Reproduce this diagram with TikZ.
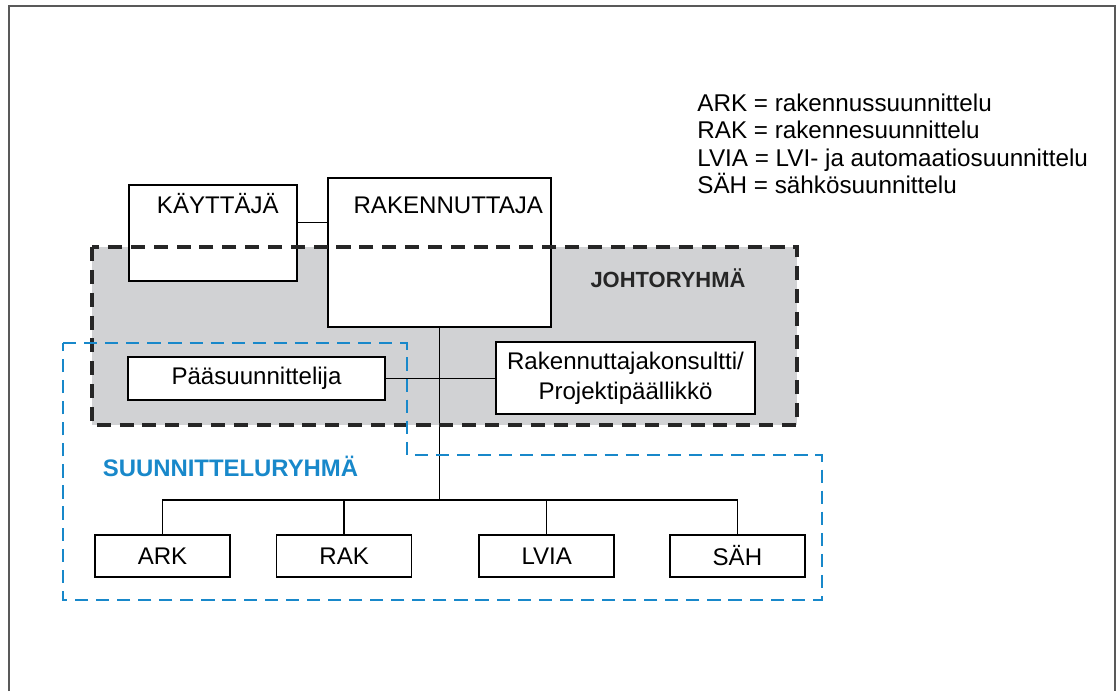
\documentclass[tikz,border=0pt]{standalone}
\usepackage{fontspec}
\setmainfont{Liberation Sans}
\usepackage{tikz}
\usetikzlibrary{positioning}
\definecolor{groupgray}{RGB}{209,210,212}
\definecolor{groupblue}{RGB}{24,136,202}
\tikzstyle{box} = [rectangle, draw, fill=white, line width=0.95pt, inner sep=0pt]
\tikzstyle{line} = [-, line width=0.75pt]
\tikzstyle{johto} = [draw=black!85, line width=2pt, dash pattern=on 8pt off 5pt]
\tikzstyle{suunn} = [draw=groupblue, line width=1.5pt, dash pattern=on 7.5pt off 4.5pt]

\begin{document}
\begin{tikzpicture}[x=0.02cm, y=-0.02cm, font=\fontsize{13.7}{17}\selectfont]
\useasboundingbox (0,0) rectangle (1117,691);
\draw [black!65, line width=0.8pt] (9,691) -- (9,6) -- (1115,6) -- (1115,691);

\fill [groupgray] (92,247) rectangle (797,425);

\node [box, anchor=north west, minimum width=3.36cm, text height=0.58cm, text depth=1.34cm] (kayttaja) at (128,184) {\hspace{0.2cm}KÄYTTÄJÄ};
\node [box, anchor=north west, minimum width=4.46cm, text height=0.72cm, text depth=2.26cm] (rakennuttaja) at (327,177) {\hspace{0.36cm}RAKENNUTTAJA};
\node [box, minimum width=5.14cm, minimum height=0.86cm] (paasuunn) at (256.5,378.5) {Pääsuunnittelija};
\node [box, minimum width=5.18cm, minimum height=1.44cm, align=center] (konsultti) at (625.5,378) {Rakennuttajakonsultti/\\Projektipäällikkö};

\node [box, minimum width=2.7cm, minimum height=0.84cm] (ark) at (162.5,556) {ARK};
\node [box, minimum width=2.7cm, minimum height=0.84cm] (rak) [right=0.9cm of ark] {RAK};
\node [box, minimum width=2.7cm, minimum height=0.84cm] (lvia) [right=1.32cm of rak] {LVIA};
\node [box, minimum width=2.7cm, minimum height=0.84cm] (sah) [right=1.08cm of lvia] {SÄH};

\node [font=\fontsize{12.5}{15}\selectfont\bfseries, text=black!85] (johtoryhma) at (668,278) {JOHTORYHMÄ};
\node [font=\fontsize{13.6}{17}\selectfont\bfseries, text=groupblue] (suunnitteluryhma) at (230.5,466) {SUUNNITTELURYHMÄ};

\node [anchor=north west, inner sep=0pt, align=left, font=\fontsize{13.8}{15.4}\selectfont] (selite) at (697,94) {ARK = rakennussuunnittelu\\RAK = rakennesuunnittelu\\LVIA = LVI- ja automaatiosuunnittelu\\SÄH = sähkösuunnittelu};

\coordinate (bus) at (rakennuttaja.south |- 0,500);

\draw [line] ([yshift=0.2cm]kayttaja.east) to ([yshift=0.2cm]kayttaja.east -| rakennuttaja.west);
\draw [line] (rakennuttaja.south) to (bus);
\draw [line] (paasuunn.east) to (paasuunn.east -| konsultti.west);

\draw [line] (ark.north) |- (bus) -| (sah.north);
\draw [line] (rak.north) to (rak.north |- bus);
\draw [line] (lvia.north) to (lvia.north |- bus);

\draw [johto] (92,247) rectangle (797,425);
\draw [suunn] (63,343) -- (407,343) -- (407,455) -- (822,455) -- (822,600) -- (63,600) -- cycle;
\end{tikzpicture}
\end{document}
